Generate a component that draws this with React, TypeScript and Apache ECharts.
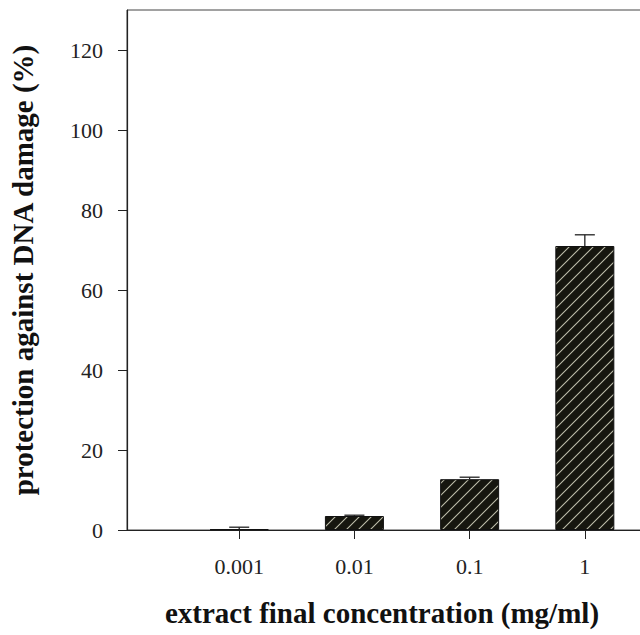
import React, { useEffect, useRef } from "react";
import * as echarts from "echarts";

const categories = ["0.001", "0.01", "0.1", "1"];
const positions = [1, 2, 3, 4];
const values = [0.2, 3.5, 12.7, 71.0];
const errors = [0.5, 0.2, 0.5, 2.8];
const yTicks = [0, 20, 40, 60, 80, 100, 120];

function makeHatch(): HTMLCanvasElement {
  const s = 12;
  const c = document.createElement("canvas");
  c.width = s;
  c.height = s;
  const ctx = c.getContext("2d")!;
  ctx.fillStyle = "#16160f";
  ctx.fillRect(0, 0, s, s);
  ctx.strokeStyle = "#bdbdab";
  ctx.lineWidth = 1.1;
  ctx.beginPath();
  ctx.moveTo(-2, s + 2);
  ctx.lineTo(s + 2, -2);
  ctx.moveTo(-2, 2);
  ctx.lineTo(2, -2);
  ctx.moveTo(s - 2, s + 2);
  ctx.lineTo(s + 2, s - 2);
  ctx.stroke();
  return c;
}

export default function App() {
  const ref = useRef<HTMLDivElement>(null);
  useEffect(() => {
    const chart = echarts.init(ref.current!, null, { renderer: "svg" });
    const hatch = makeHatch();
    const font = "'Liberation Serif', 'Times New Roman', serif";
    chart.setOption({
      animation: false,
      backgroundColor: "#fff",
      grid: {
        left: 123,
        right: 23,
        top: 10,
        bottom: 105,
        show: true,
        borderColor: "#444",
        borderWidth: 1,
        containLabel: false,
      },
      xAxis: {
        type: "value",
        min: 0.026,
        max: 4.8,
        splitLine: { show: false },
        axisLine: { show: true, lineStyle: { color: "#222", width: 1.2 } },
        axisTick: {
          show: true,
          inside: false,
          length: 9,
          customValues: positions,
          lineStyle: { color: "#222" },
        },
        axisLabel: {
          customValues: positions,
          formatter: (v: number) => {
            const i = positions.indexOf(Math.round(v));
            return i >= 0 ? categories[i] : "";
          },
          margin: 25,
          fontFamily: font,
          fontSize: 22,
          color: "#222",
        },
      },
      yAxis: {
        type: "value",
        min: 0,
        max: 130,
        splitLine: { show: false },
        axisLine: { show: true, lineStyle: { color: "#222", width: 1.2 } },
        axisTick: {
          show: true,
          length: 9,
          customValues: yTicks,
          lineStyle: { color: "#222" },
        },
        axisLabel: {
          customValues: yTicks,
          margin: 24,
          fontFamily: font,
          fontSize: 22,
          color: "#222",
        },
        name: "protection against DNA damage (%)",
        nameLocation: "middle",
        nameGap: 90,
        nameTextStyle: {
          fontFamily: font,
          fontSize: 29,
          fontWeight: "bold",
          color: "#111",
        },
      },
      graphic: [
        {
          type: "text",
          x: 382,
          y: 613,
          style: {
            text: "extract final concentration (mg/ml)",
            font: `bold 29px ${font}`,
            fill: "#111",
            textAlign: "center",
            textVerticalAlign: "middle",
          },
        },
      ],
      series: [
        {
          type: "bar",
          barWidth: 59,
          data: positions.map((p, i) => [p, values[i]]),
          itemStyle: {
            color: { image: hatch, repeat: "repeat", imageWidth: 12, imageHeight: 12 },
            borderColor: "#111",
            borderWidth: 1,
          },
        },
        {
          type: "custom",
          data: positions.map((p, i) => [p, values[i], errors[i]]),
          renderItem: (params: any, api: any) => {
            const x = api.value(0);
            const y = api.value(1);
            const e = api.value(2);
            const base = api.coord([x, y]);
            const top = api.coord([x, y + e]);
            const style = { stroke: "#222", lineWidth: 1.3 };
            return {
              type: "group",
              children: [
                { type: "line", shape: { x1: base[0], y1: base[1], x2: top[0], y2: top[1] }, style },
                { type: "line", shape: { x1: top[0] - 10, y1: top[1], x2: top[0] + 10, y2: top[1] }, style },
              ],
            };
          },
          z: 5,
        },
      ],
    });
    return () => chart.dispose();
  }, []);
  return (
    <div style={{ width: 640, height: 635, position: "absolute", left: 0, top: 0, overflow: "hidden" }}>
      <div ref={ref} style={{ width: 700, height: 635 }} />
    </div>
  );
}
